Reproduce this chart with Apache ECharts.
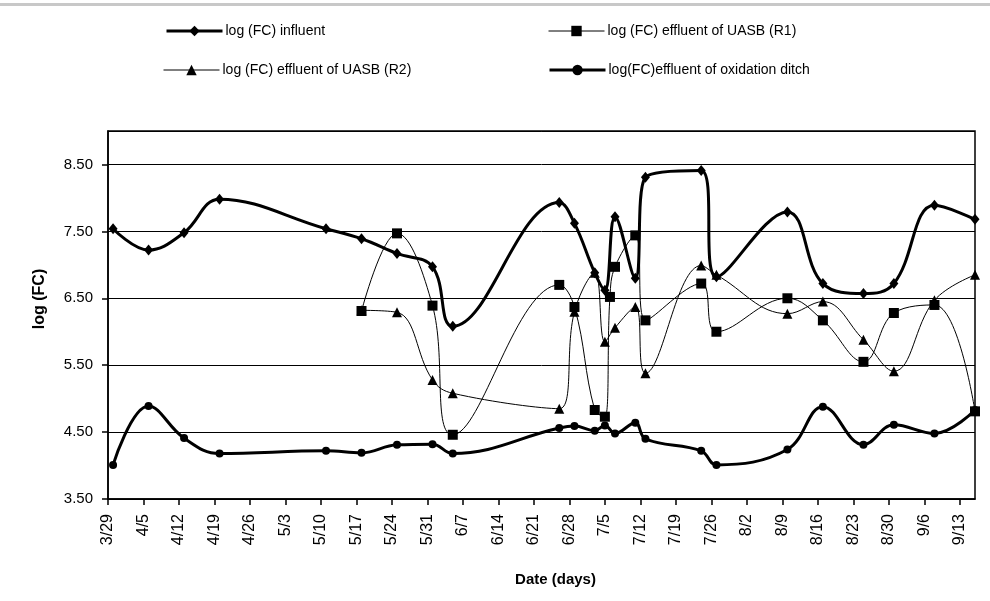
<!DOCTYPE html>
<html lang="en">
<head>
	<meta charset="UTF-8">
	<title>log (FC)</title>
	<script src="https://cdn.jsdelivr.net/npm/echarts@6/dist/echarts.min.js"></script>
	<style>
		html, body { margin: 0; padding: 0; background: #fff; }
	</style>
</head>
<body>
	<div id="main" style="width: 990px; height: 601px;"></div>
	<script type="text/javascript">
	// sampling dates (m/d) and log values
	var influentDates = ['3/30', '4/6', '4/13', '4/20', '5/11', '5/18', '5/25', '6/1', '6/5', '6/26', '6/29', '7/3',
		'7/5', '7/7', '7/11', '7/13', '7/24', '7/27', '8/10', '8/17', '8/25', '8/31', '9/8', '9/16'];
	var influent = [7.54, 7.22, 7.48, 7.98, 7.54, 7.39, 7.17, 6.97, 6.08, 7.93, 7.62, 6.88,
		6.62, 7.72, 6.80, 8.31, 8.41, 6.82, 7.79, 6.72, 6.57, 6.72, 7.89, 7.68];

	var r1Dates = ['5/18', '5/25', '6/1', '6/5', '6/26', '6/29', '7/3', '7/5', '7/6', '7/7', '7/11', '7/13',
		'7/24', '7/27', '8/10', '8/17', '8/25', '8/31', '9/8', '9/16'];
	var r1 = [6.31, 7.47, 6.39, 4.46, 6.70, 6.37, 4.83, 4.73, 6.52, 6.97, 7.44, 6.17,
		6.72, 6.00, 6.50, 6.17, 5.55, 6.28, 6.40, 4.81];

	var r2Dates = ['5/18', '5/25', '6/1', '6/5', '6/26', '6/29', '7/3', '7/5', '7/7', '7/11', '7/13',
		'7/24', '7/27', '8/10', '8/17', '8/25', '8/31', '9/8', '9/16'];
	var r2 = [6.32, 6.29, 5.28, 5.08, 4.85, 6.30, 6.88, 5.85, 6.06, 6.37, 5.38,
		6.99, 6.85, 6.27, 6.45, 5.88, 5.41, 6.47, 6.85];

	var ditchDates = influentDates;
	var ditch = [4.01, 4.89, 4.41, 4.18, 4.22, 4.19, 4.31, 4.32, 4.18, 4.56, 4.59, 4.52,
		4.60, 4.48, 4.64, 4.40, 4.22, 4.01, 4.24, 4.88, 4.31, 4.61, 4.48, 4.83];

	var names = ['log (FC) influent', 'log (FC) effluent of UASB (R1)',
		'log (FC) effluent of UASB (R2)', 'log(FC)effluent of oxidation ditch'];

	var startDay = Date.UTC(2000, 2, 29); // axis starts at 3/29
	var oneDay = 24 * 3600 * 1000;

	function dayOf(s) {
		var p = s.split('/');
		return Math.round((Date.UTC(2000, +p[0] - 1, +p[1]) - startDay) / oneDay);
	}
	function dayLabel(v) {
		var d = new Date(startDay + v * oneDay);
		return (d.getUTCMonth() + 1) + '/' + d.getUTCDate();
	}
	function pairs(dates, vals) {
		return dates.map(function (s, i) { return [dayOf(s), vals[i]]; });
	}

	var font = 'Liberation Sans, Arial, sans-serif';

	function legendAt(name, left, top, lw) {
		return {
			data: [name], left: left, top: top, padding: 0,
			itemWidth: 56, itemHeight: 13, itemGap: 0,
			lineStyle: { width: lw },
			textStyle: { fontSize: 14, color: '#000', fontFamily: font, padding: [0, 0, 0, -2] }
		};
	}

	function lineSeries(name, data, symbol, size, width) {
		return {
			name: name,
			type: 'line',
			smooth: 0.4,
			data: data,
			symbol: symbol,
			symbolSize: size,
			showSymbol: true,
			color: '#000',
			itemStyle: { color: '#000' },
			lineStyle: { color: '#000', width: width }
		};
	}

	var option = {
		animation: false,
		backgroundColor: '#fff',
		textStyle: { fontFamily: font },
		graphic: [{
			type: 'rect', left: 0, top: 3,
			shape: { width: 990, height: 3 },
			style: { fill: '#c8c8c8' }
		}],
		legend: [
			legendAt(names[0], 165, 24, 3),
			legendAt(names[1], 548, 24, 1),
			legendAt(names[2], 163, 63, 1),
			legendAt(names[3], 548, 63, 3)
		],
		grid: {
			left: 108, right: 15, top: 131, bottom: 102,
			show: true, borderColor: '#000', borderWidth: 1.5, containLabel: false
		},
		xAxis: {
			type: 'value',
			min: 0,
			max: 171,
			interval: 7,
			name: 'Date (days)',
			nameLocation: 'middle',
			nameGap: 73,
			nameTextStyle: { fontWeight: 'bold', fontSize: 15, color: '#000', padding: [0, 0, 0, 28] },
			axisLine: { lineStyle: { color: '#000', width: 1.5 } },
			axisTick: { length: 6, lineStyle: { color: '#000', width: 1.5 } },
			splitLine: { show: false },
			axisLabel: {
				rotate: 90, margin: 15, fontSize: 16, color: '#000',
				showMaxLabel: false,
				formatter: dayLabel
			}
		},
		yAxis: {
			type: 'value',
			min: 3.5,
			max: 9,
			interval: 1,
			name: 'log (FC)',
			nameLocation: 'middle',
			nameGap: 60,
			nameTextStyle: { fontWeight: 'bold', fontSize: 16, color: '#000', padding: [0, 0, 0, 32] },
			axisLine: { show: true, lineStyle: { color: '#000', width: 1.5 } },
			axisTick: { show: true, length: 6, lineStyle: { color: '#000', width: 1.5 } },
			splitLine: { lineStyle: { color: '#000', width: 1 } },
			axisLabel: {
				margin: 15, fontSize: 15, color: '#000',
				showMaxLabel: false,
				formatter: function (v) { return v.toFixed(2); }
			}
		},
		series: [
			lineSeries(names[0], pairs(influentDates, influent), 'diamond', [9, 11], 3),
			lineSeries(names[1], pairs(r1Dates, r1), 'rect', 10, 1),
			lineSeries(names[2], pairs(r2Dates, r2), 'triangle', 10, 1),
			lineSeries(names[3], pairs(ditchDates, ditch), 'circle', 8, 3)
		]
	};

	var chart = echarts.init(document.getElementById('main'));
	chart.setOption(option);
	</script>
</body>
</html>
